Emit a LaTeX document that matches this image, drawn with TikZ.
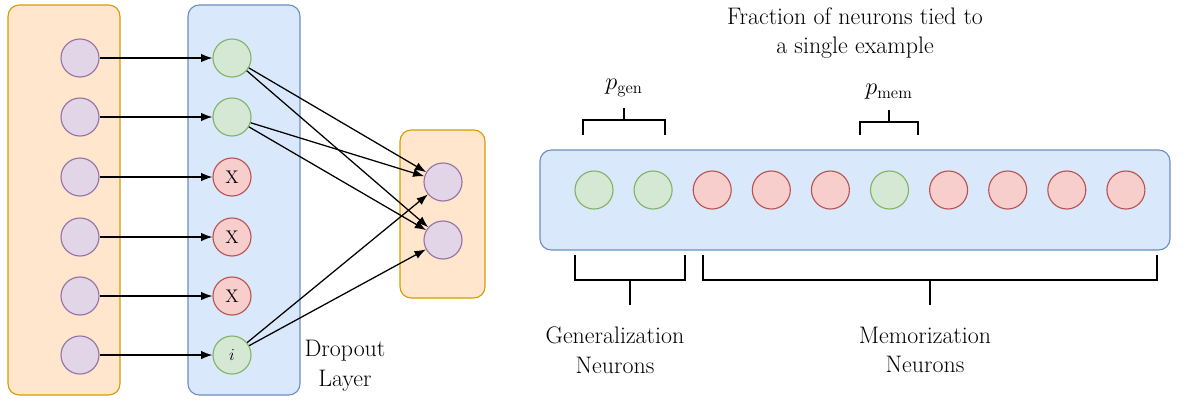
\documentclass[tikz,border=0pt]{standalone}
\usepackage{amsmath}
\usepackage{tikz}
\usetikzlibrary{arrows.meta,positioning}
\tikzset{>={Latex[width=6pt,length=8pt]}}
\definecolor{orFill}{HTML}{FFE6CC}\definecolor{orLine}{HTML}{D79B00}
\definecolor{blFill}{HTML}{DAE8FC}\definecolor{blLine}{HTML}{6C8EBF}
\definecolor{puFill}{HTML}{E1D5E7}\definecolor{puLine}{HTML}{9673A6}
\definecolor{grFill}{HTML}{D5E8D4}\definecolor{grLine}{HTML}{82B366}
\definecolor{rdFill}{HTML}{F8CECC}\definecolor{rdLine}{HTML}{B85450}
\tikzset{
  neuron/.style={circle, minimum size=0.95cm, inner sep=0pt, line width=0.8pt},
  inp/.style={neuron, fill=puFill, draw=puLine},
  gen/.style={neuron, fill=grFill, draw=grLine},
  mem/.style={neuron, fill=rdFill, draw=rdLine},
  layer/.style={rounded corners=8pt, line width=0.8pt},
  olayer/.style={layer, fill=orFill, draw=orLine},
  blayer/.style={layer, fill=blFill, draw=blLine},
  brack/.style={line width=0.9pt},
  lbl/.style={align=center, font=\fontsize{17}{21}\selectfont}
}
\begin{document}
\begin{tikzpicture}[x=0.025cm, y=-0.025cm]
  \useasboundingbox (0,0) rectangle (1200,404);

  % layers
  \draw[olayer] (8,5) rectangle (120,395);
  \draw[blayer] (188,5) rectangle (300,395);
  \draw[olayer] (400,130) rectangle (485,298);
  \draw[blayer] (540,150) rectangle (1170,250);

  % input and dropout neurons
  \foreach \i/\y/\s/\t in {1/58/gen/{}, 2/117/gen/{}, 3/177/mem/X, 4/237/mem/X, 5/296/mem/X, 6/355/gen/$i$} {
    \node[inp] (in\i) at (80,\y) {};
    \node[\s, font=\fontsize{13}{15}\selectfont] (d\i) at (232,\y) {\t};
    \draw[->, line width=0.9pt] (in\i) -- (d\i);
  }
  \node[inp] (o1) at (443,182) {};
  \node[inp] (o2) at (443,240) {};
  \foreach \i in {1,2,6} {
    \draw[->, line width=0.9pt] (d\i) -- (o1);
    \draw[->, line width=0.9pt] (d\i) -- (o2);
  }
  \node[lbl] (drop) at (345,366) {Dropout\\Layer};

  % neuron row
  \foreach \k/\s in {1/gen,2/gen,3/mem,4/mem,5/mem,6/gen,7/mem,8/mem,9/mem,10/mem} {
    \node[\s] (n\k) at ({594+(\k-1)*59.1},190) {};
  }

  % top brackets
  \draw[brack] (583,135) -- (583,120) -- (665,120) -- (665,135);
  \draw[brack] (624,120) -- (624,108);
  \node[lbl] (pgen) at (624,88) {$p_{\text{gen}}$};
  \draw[brack] (860,135) -- (860,122) -- (918,122) -- (918,135);
  \draw[brack] (889,122) -- (889,110);
  \node[lbl] (pmem) at (889,92) {$p_{\text{mem}}$};
  \node[lbl] (frac) at (855,33) {Fraction of neurons tied to\\a single example};

  % bottom brackets
  \draw[brack] (575,255) -- (575,280) -- (685,280) -- (685,255);
  \draw[brack] (630,280) -- (630,305);
  \node[lbl] (genl) at (615,350) {Generalization\\Neurons};
  \draw[brack] (703,255) -- (703,280) -- (1157,280) -- (1157,255);
  \draw[brack] (930,280) -- (930,305);
  \node[lbl] (meml) at (925,350) {Memorization\\Neurons};
\end{tikzpicture}
\end{document}
